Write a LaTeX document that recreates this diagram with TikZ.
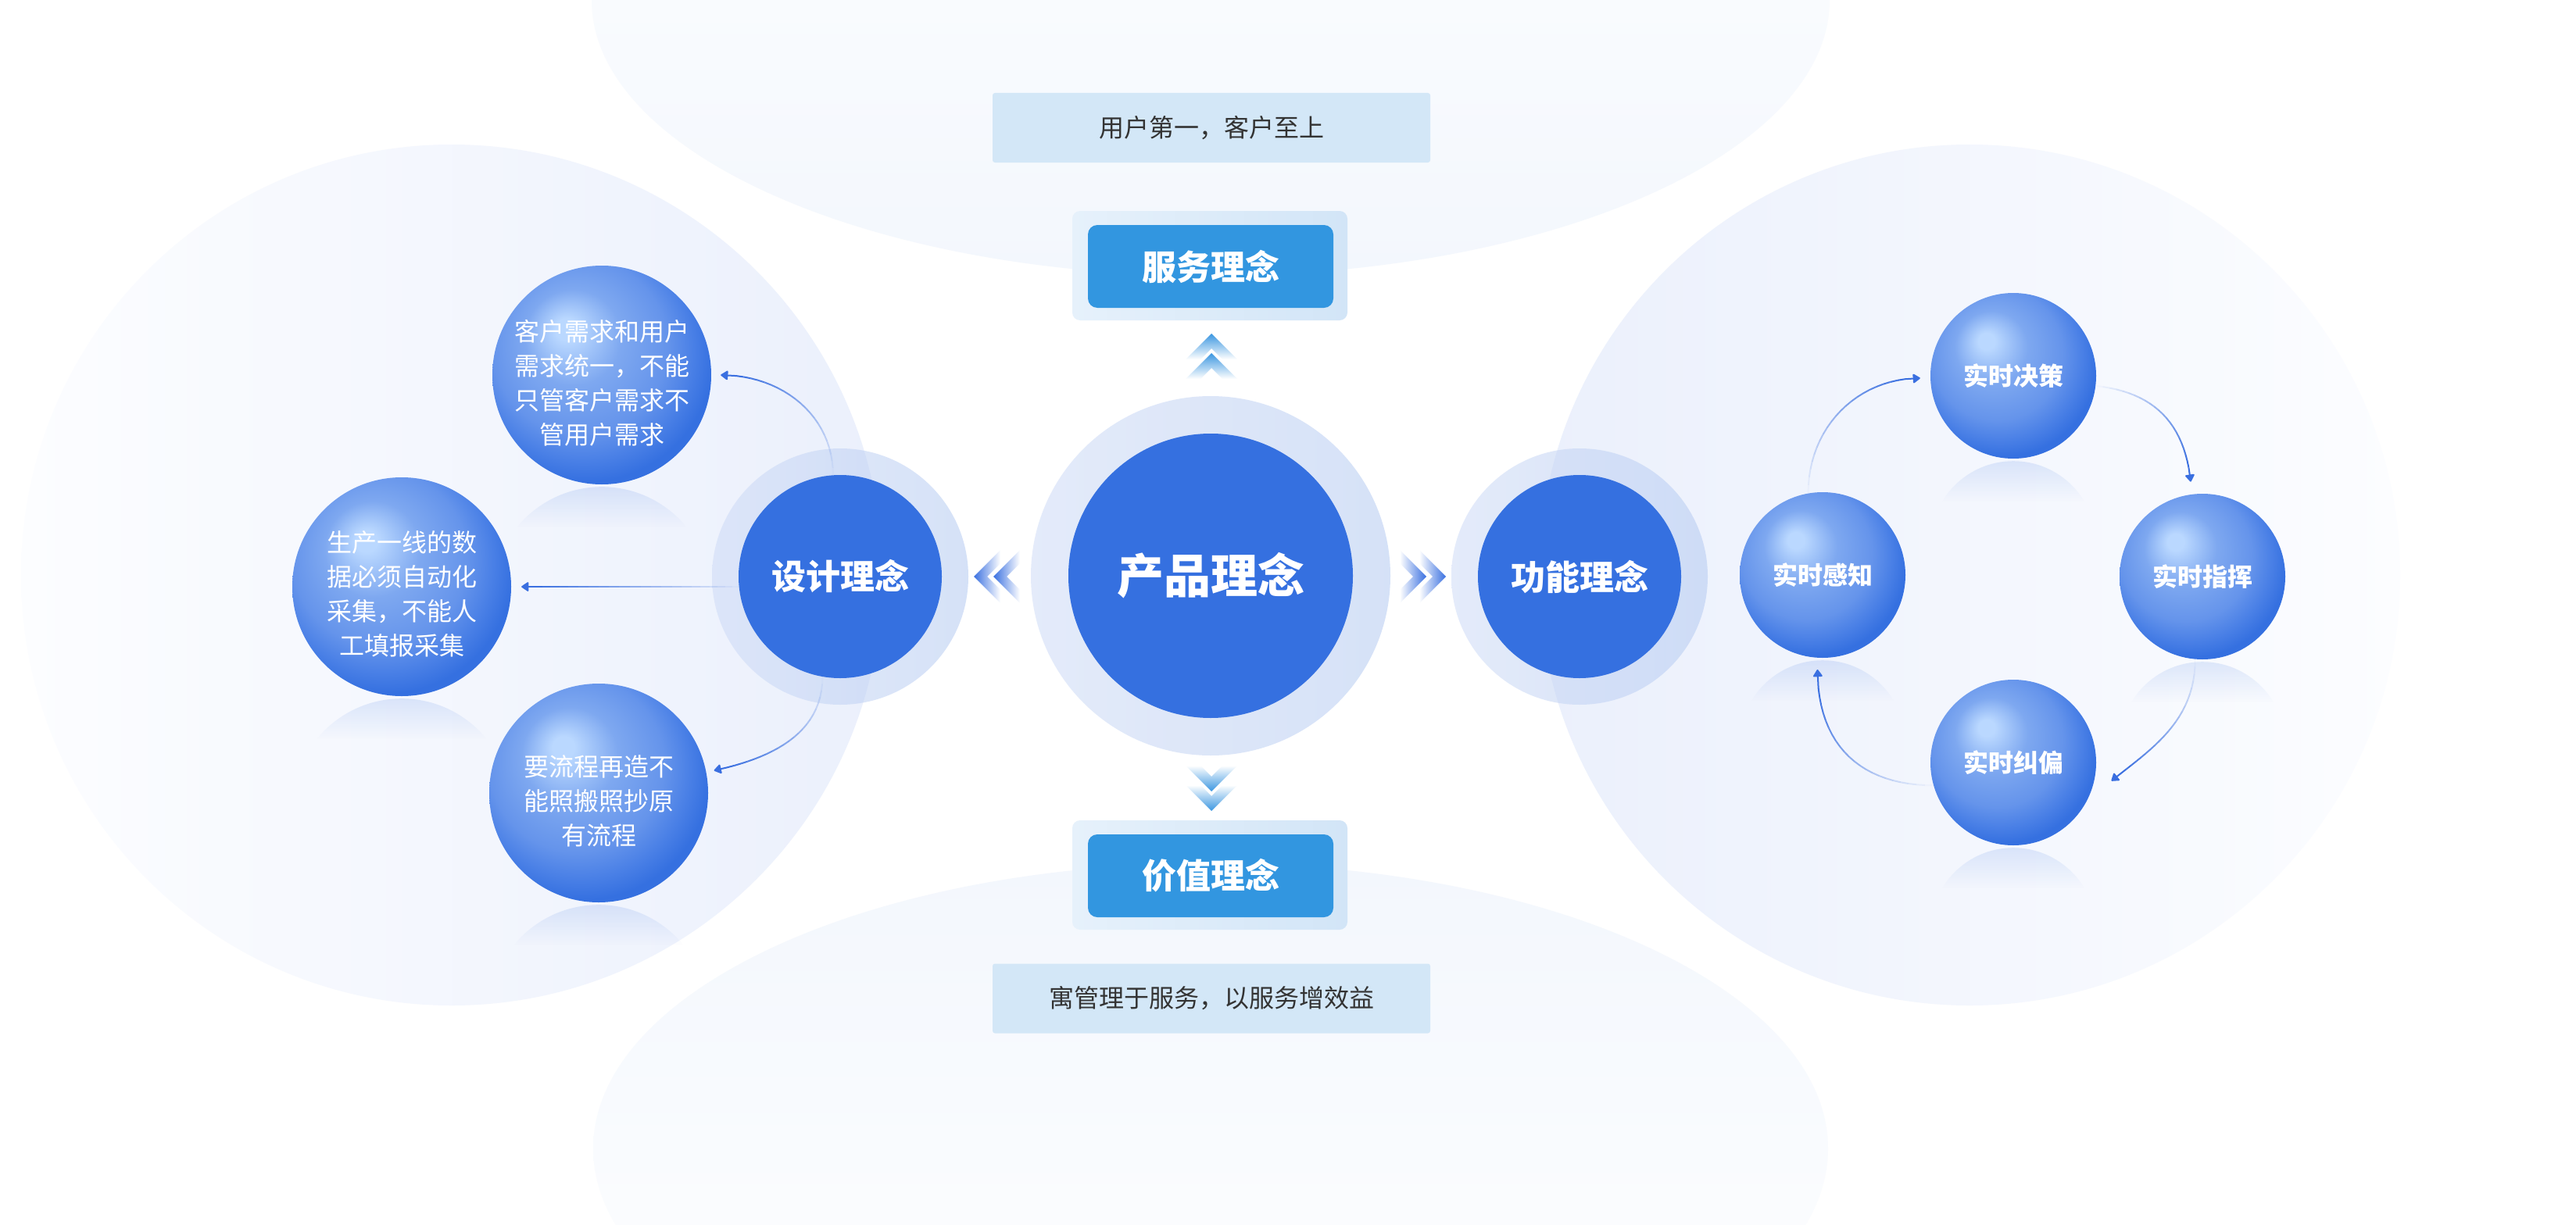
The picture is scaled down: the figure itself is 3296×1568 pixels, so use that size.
\documentclass[tikz,border=0pt]{standalone}
\usepackage{fontspec}
\newfontfamily\cjk{Noto Sans CJK SC}
\usetikzlibrary{arrows.meta,fadings,calc}

\definecolor{mainblue}{HTML}{3570E0}
\definecolor{boxblue}{HTML}{3296E0}
\definecolor{lightbox}{HTML}{D3E7F7}
\definecolor{txtdark}{HTML}{333333}
\definecolor{sphA}{HTML}{BAD8FF}
\definecolor{sphB}{HTML}{7EA8F0}
\definecolor{sphM}{HTML}{6594EB}
\definecolor{sphN}{HTML}{4A80E6}
\definecolor{sphC}{HTML}{3570E0}
\definecolor{bgA}{HTML}{EBF0FC}
\definecolor{bgB}{HTML}{FCFDFF}
\definecolor{topbg}{HTML}{F3F7FD}
\definecolor{haloLs}{HTML}{CEDBF6}
\definecolor{haloRs}{HTML}{B4CAF2}
\definecolor{boxhaloL}{HTML}{E6F1FB}
\definecolor{boxhaloR}{HTML}{D2E5F7}
\definecolor{arrowc}{HTML}{3A6FE0}
\definecolor{chevL}{HTML}{3A70E0}
\definecolor{chevU}{HTML}{3A96E0}

\pgfdeclareradialshading{sphereshade}{\pgfpoint{-8.5bp}{11bp}}{color(0bp)=(sphA); color(2.5bp)=(sphA); color(11bp)=(sphB); color(20bp)=(sphM); color(25bp)=(sphN); color(29bp)=(sphC); color(50bp)=(sphC)}
\tikzfading[name=reflfade, top color=transparent!0, bottom color=transparent!100]

\tikzset{
  halo/.style={left color=haloLs, right color=haloRs, fill opacity=0.55},
  prodnode/.style={circle, fill=mainblue, minimum size=364pt, inner sep=0pt, text=white,
    font=\cjk\bfseries\fontsize{60}{72}\selectfont},
  subnode/.style={circle, fill=mainblue, minimum size=260pt, inner sep=0pt, text=white,
    font=\cjk\bfseries\fontsize{44}{52}\selectfont},
  sphere/.style={circle, shade, shading=sphereshade, inner sep=0pt},
  bigsph/.style={sphere, minimum size=280pt},
  smallsph/.style={sphere, minimum size=212pt, text=white, font=\cjk\bfseries\fontsize{32}{40}\selectfont},
  sphtext/.style={text=white, align=center, inner sep=0pt, font=\cjk\fontsize{32}{44}\selectfont},
  mottobox/.style={rectangle, fill=lightbox, minimum width=560pt, minimum height=89pt,
    rounded corners=3pt, text=txtdark, font=\cjk\fontsize{32}{38}\selectfont},
  boxhalo/.style={rectangle, left color=boxhaloL, right color=boxhaloR, minimum width=352pt,
    minimum height=140pt, rounded corners=10pt},
  boxnode/.style={rectangle, fill=boxblue, minimum width=314pt, minimum height=106pt,
    rounded corners=12pt, text=white, font=\cjk\bfseries\fontsize{44}{52}\selectfont},
  fadeline/.style={draw=arrowc, line width=2pt},
  chevh/.style={left color=chevL, right color=white},
  chevhr/.style={left color=white, right color=chevL},
  chevup/.style={top color=chevU, bottom color=white},
  chevdn/.style={top color=white, bottom color=chevU}
}

% curve from #1 to #4 with controls #2, #3; fades in from start to tip
\newcommand\fadecurve[4]{%
  \path #1 .. controls #2 and #3 .. #4
    \foreach \k [evaluate=\k as \pp using \k/24] in {0,...,24}{coordinate[pos=\pp] (fc\k)};
  \foreach \k [evaluate=\k as \kk using int(\k+1), evaluate=\k as \op using 0.03+0.97*(\k/21)] in {0,...,21}{%
    \draw[fadeline, draw opacity=\op] (fc\k) -- (fc\kk);}
  \draw[fadeline, -{Triangle[width=13pt,length=10pt,round]}] (fc22) -- (fc24);
}
% reflection under a sphere node #1 of radius #2
\newcommand\sphrefl[2]{%
  \begin{scope}
    \clip ($(#1.south)+(0,#2+3)$) circle (#2);
    \fill[mainblue, fill opacity=0.14, path fading=reflfade]
      ($(#1.south)+(-#2,3)$) rectangle ($(#1.south)+(#2,55)$);
  \end{scope}}

\begin{document}
\begin{tikzpicture}[x=1pt,y=-1pt]
\useasboundingbox (0,0) rectangle (3296,1568);
\fill[white] (0,0) rectangle (3296,1568);

% soft background shapes
\shade[top color=white, middle color=white, bottom color=topbg] (1549,0) ellipse [x radius=792, y radius=353];
\shade[top color=topbg, middle color=white, bottom color=white] (1549,1470) ellipse [x radius=790, y radius=365];
\shade[left color=bgB, right color=bgA] (578,736) circle (551);
\shade[left color=bgA, right color=bgB] (2520,736) circle (551);

% halos
\shade[halo] (1549,737) circle (230);
\shade[halo] (1075,738) circle (164);
\shade[halo] (2021,738) circle (164);

% main nodes
\node[prodnode] (prod) at (1549,737) {产品理念};
\node[subnode] (design) at (1075,738) {设计理念};
\node[subnode] (func) at (2021,738) {功能理念};

% spheres
\node[bigsph] (s1) at (770,480) {};
\node[bigsph] (s2) at (514,751) {};
\node[bigsph] (s3) at (766,1015) {};
\node[sphtext] (s1t) at ([yshift=-10pt]s1.center) {客户需求和用户\\需求统一，不能\\只管客户需求不\\管用户需求};
\node[sphtext] (s2t) at ([yshift=-9pt]s2.center) {生产一线的数\\据必须自动化\\采集，不能人\\工填报采集};
\node[sphtext] (s3t) at ([yshift=-10pt]s3.center) {要流程再造不\\能照搬照抄原\\有流程};
\node[smallsph] (dec) at (2576,481) {实时决策};
\node[smallsph] (perc) at (2332,736) {实时感知};
\node[smallsph] (cmd) at (2818,738) {实时指挥};
\node[smallsph] (corr) at (2576,976) {实时纠偏};

\sphrefl{s1}{140}
\sphrefl{s2}{140}
\sphrefl{s3}{140}
\sphrefl{dec}{106}
\sphrefl{perc}{106}
\sphrefl{cmd}{106}
\sphrefl{corr}{106}

% connectors
\fadecurve{(design.94)}{+(0,-75)}{+(80,0)}{($(s1.east)+(12,0)$)}
\fadecurve{(design.west |- s2.east)}{+(-60,0)}{+(60,0)}{($(s2.east)+(13,0)$)}
\fadecurve{(design.-100)}{+(0,75)}{+(70,-15)}{($(s3.11)+(10,-2)$)}
\fadecurve{(perc.100)}{+(0,-85)}{+(-80,0)}{($(dec.west)+(-13,3)$)}
\fadecurve{(dec.-7)}{+(75,8)}{+(-8,-75)}{($(cmd.97)+(-2,-16)$)}
\fadecurve{(cmd.-95)}{+(0,80)}{+(50,-40)}{($(corr.-10)+(21,5)$)}
\fadecurve{(corr.196)}{+(-90,0)}{+(0,100)}{($(perc.-93)+(-1,15)$)}

% chevrons
\foreach \x in {1246,1271}{
  \shade[chevh] (\x,738) -- (\x+34,704) -- (\x+34,721) -- (\x+17,738) -- (\x+34,755) -- (\x+34,772) -- cycle;}
\foreach \x in {1850,1825}{
  \shade[chevhr] (\x,738) -- (\x-34,704) -- (\x-34,721) -- (\x-17,738) -- (\x-34,755) -- (\x-34,772) -- cycle;}
\foreach \y in {427,452}{
  \shade[chevup] (1550,\y) -- (1583,\y+33) -- (1564,\y+33) -- (1550,\y+19) -- (1536,\y+33) -- (1517,\y+33) -- cycle;}
\foreach \y in {1013,1038}{
  \shade[chevdn] (1550,\y) -- (1583,\y-33) -- (1564,\y-33) -- (1550,\y-19) -- (1536,\y-33) -- (1517,\y-33) -- cycle;}

% boxes
\node[mottobox] (motto1) at (1550,163.5) {用户第一，客户至上};
\node[boxhalo] (svcbg) at (1548,340) {};
\node[boxnode] (svc) at (1549,341) {服务理念};
\node[boxhalo] (valbg) at (1548,1120) {};
\node[boxnode] (val) at (1549,1121) {价值理念};
\node[mottobox] (motto2) at (1550,1278) {寓管理于服务，以服务增效益};
\end{tikzpicture}
\end{document}
